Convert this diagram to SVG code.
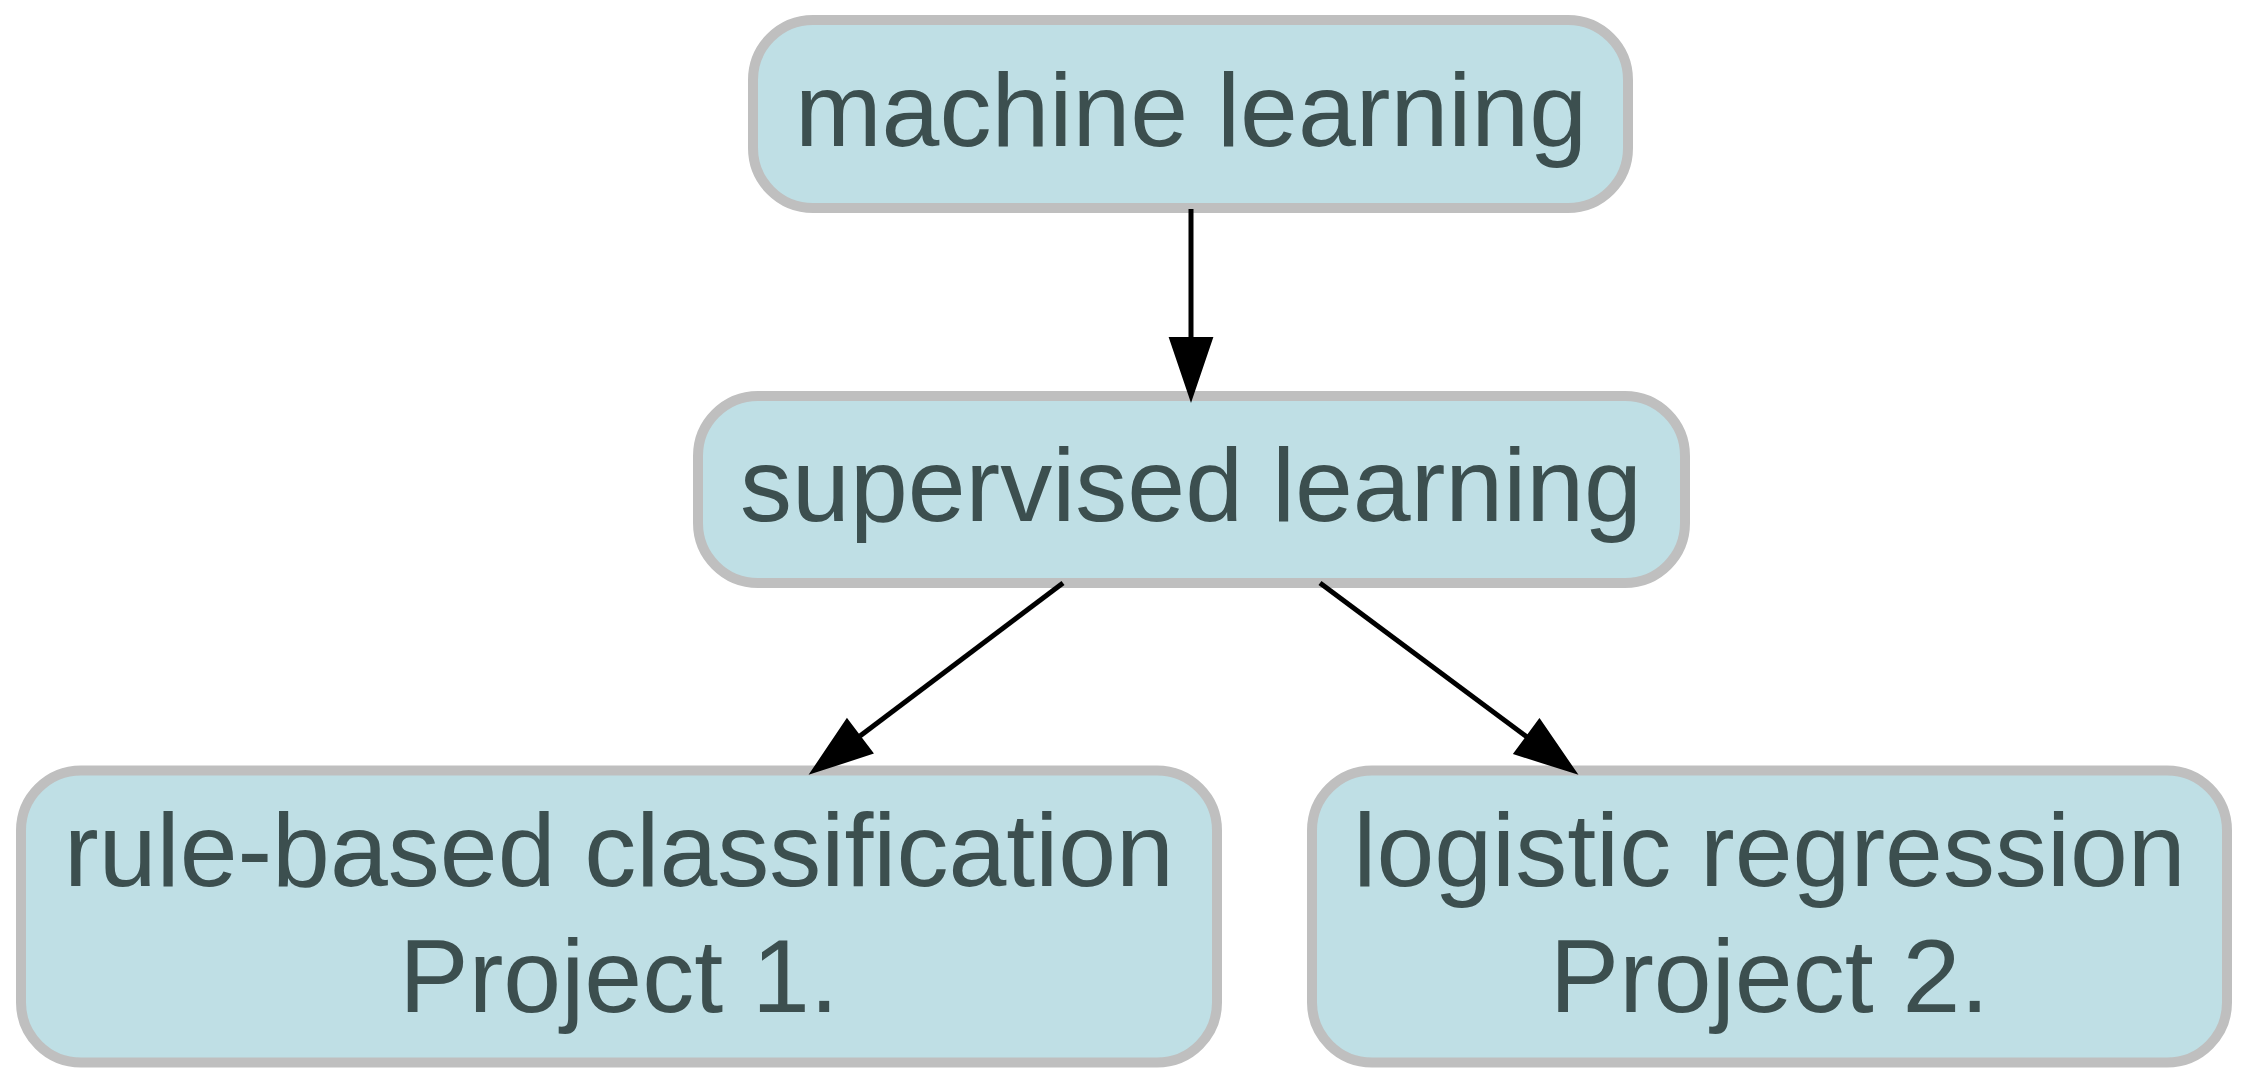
<svg xmlns="http://www.w3.org/2000/svg" width="2250" height="1083" viewBox="0 0 2250 1083">
  <style>
    .box { fill: #bfdfe5; stroke: #bfbfbf; stroke-width: 10; }
    .label { font-family: "Liberation Sans", Arial, Helvetica, sans-serif; font-size: 104px; fill: #3c4f4f; text-anchor: middle; }
    .edge { stroke: #000000; stroke-width: 5; fill: none; }
    .head { fill: #000000; stroke: #000000; stroke-width: 2; stroke-linejoin: miter; }
  </style>
  <rect width="2250" height="1083" fill="#ffffff"/>

  <g id="nodes">
    <g id="machine_learning">
      <rect class="box" x="753" y="20" width="875" height="188" rx="60" ry="60"/>
      <text class="label" x="1191" y="146">machine learning</text>
    </g>
    <g id="supervised_learning">
      <rect class="box" x="698" y="396" width="987" height="187" rx="60" ry="60"/>
      <text class="label" x="1191" y="521">supervised learning</text>
    </g>
    <g id="rule_based_classification">
      <rect class="box" x="21" y="770.5" width="1196" height="292" rx="60" ry="60"/>
      <text class="label" x="619" y="886">rule-based classification</text>
      <text class="label" x="619" y="1012">Project 1.</text>
    </g>
    <g id="logistic_regression">
      <rect class="box" x="1312" y="770.5" width="915" height="292" rx="60" ry="60"/>
      <text class="label" x="1769.5" y="886">logistic regression</text>
      <text class="label" x="1769.5" y="1012">Project 2.</text>
    </g>
  </g>

  <g id="connectors">
    <!-- machine learning -> supervised learning -->
    <line class="edge" x1="1191" y1="209" x2="1191" y2="338"/>
    <polygon class="head" points="1170,338 1212,338 1191,400"/>
    <!-- supervised learning -> rule-based classification -->
    <line class="edge" x1="1063" y1="583" x2="860" y2="736"/>
    <polygon class="head" points="847,719.5 872.3,753.1 811,773"/>
    <!-- supervised learning -> logistic regression -->
    <line class="edge" x1="1320" y1="583" x2="1527" y2="737"/>
    <polygon class="head" points="1539.5,719.7 1514.5,753.5 1576,773"/>
  </g>
</svg>
